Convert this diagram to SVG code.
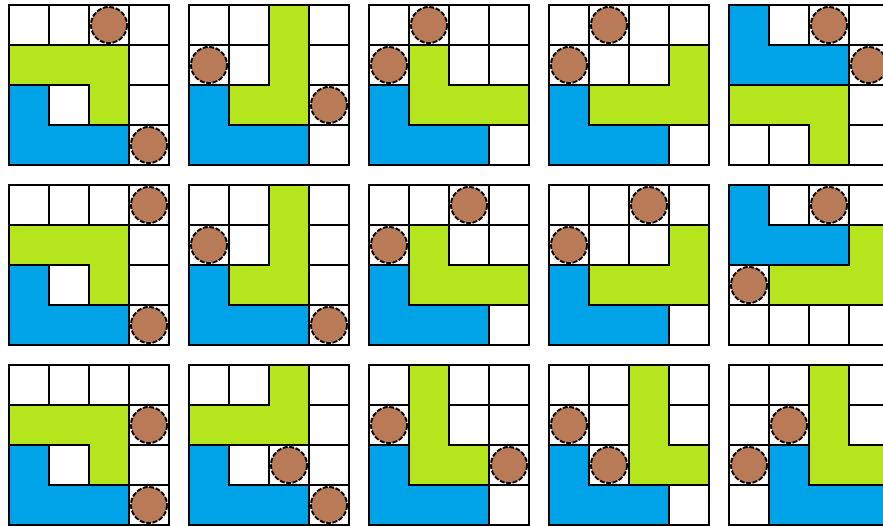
<svg xmlns="http://www.w3.org/2000/svg" xmlns:xlink="http://www.w3.org/1999/xlink" width="883" height="526" viewBox="0 0 883 526">
<style>
.g{fill:#b5e61d;stroke:#000;stroke-width:2}
.b{fill:#00a2e8;stroke:#000;stroke-width:2}
.c{fill:#b97a57;stroke:#000;stroke-width:2;stroke-dasharray:5 1.5}
.gl{fill:none;stroke:#000;stroke-width:2}
</style>
<defs>
<g id="grid">
<rect x="0" y="0" width="160" height="160" fill="#fff"/>
<path class="gl" d="M40 0V160M80 0V160M120 0V160M0 40H160M0 80H160M0 120H160"/>
<rect class="gl" x="0" y="0" width="160" height="160"/>
</g>
<polygon id="blueA" class="b" points="0,80 40,80 40,120 120,120 120,160 0,160"/>
</defs>
<rect width="883" height="526" fill="#fff"/>
<g id="board-r1c1" transform="translate(9,5)">
<use xlink:href="#grid"/><use xlink:href="#blueA"/>
<polygon class="g" points="0,40 120,40 120,120 80,120 80,80 0,80"/>
<circle class="c" cx="100" cy="20" r="18"/><circle class="c" cx="140" cy="140" r="18"/>
</g>
<g id="board-r1c2" transform="translate(189,5)">
<use xlink:href="#grid"/><use xlink:href="#blueA"/>
<polygon class="g" points="80,0 120,0 120,120 40,120 40,80 80,80"/>
<circle class="c" cx="20" cy="60" r="18"/><circle class="c" cx="140" cy="100" r="18"/>
</g>
<g id="board-r1c3" transform="translate(369,5)">
<use xlink:href="#grid"/><use xlink:href="#blueA"/>
<polygon class="g" points="40,40 80,40 80,80 160,80 160,120 40,120"/>
<circle class="c" cx="60" cy="20" r="18"/><circle class="c" cx="20" cy="60" r="18"/>
</g>
<g id="board-r1c4" transform="translate(549,5)">
<use xlink:href="#grid"/><use xlink:href="#blueA"/>
<polygon class="g" points="120,40 160,40 160,120 40,120 40,80 120,80"/>
<circle class="c" cx="60" cy="20" r="18"/><circle class="c" cx="20" cy="60" r="18"/>
</g>
<g id="board-r1c5" transform="translate(729,5)">
<use xlink:href="#grid"/>
<polygon class="b" points="0,0 40,0 40,40 120,40 120,80 0,80"/>
<polygon class="g" points="0,80 120,80 120,160 80,160 80,120 0,120"/>
<circle class="c" cx="100" cy="20" r="18"/><circle class="c" cx="140" cy="60" r="18"/>
</g>
<g id="board-r2c1" transform="translate(9,185)">
<use xlink:href="#grid"/><use xlink:href="#blueA"/>
<polygon class="g" points="0,40 120,40 120,120 80,120 80,80 0,80"/>
<circle class="c" cx="140" cy="20" r="18"/><circle class="c" cx="140" cy="140" r="18"/>
</g>
<g id="board-r2c2" transform="translate(189,185)">
<use xlink:href="#grid"/><use xlink:href="#blueA"/>
<polygon class="g" points="80,0 120,0 120,120 40,120 40,80 80,80"/>
<circle class="c" cx="20" cy="60" r="18"/><circle class="c" cx="140" cy="140" r="18"/>
</g>
<g id="board-r2c3" transform="translate(369,185)">
<use xlink:href="#grid"/><use xlink:href="#blueA"/>
<polygon class="g" points="40,40 80,40 80,80 160,80 160,120 40,120"/>
<circle class="c" cx="100" cy="20" r="18"/><circle class="c" cx="20" cy="60" r="18"/>
</g>
<g id="board-r2c4" transform="translate(549,185)">
<use xlink:href="#grid"/><use xlink:href="#blueA"/>
<polygon class="g" points="120,40 160,40 160,120 40,120 40,80 120,80"/>
<circle class="c" cx="100" cy="20" r="18"/><circle class="c" cx="20" cy="60" r="18"/>
</g>
<g id="board-r2c5" transform="translate(729,185)">
<use xlink:href="#grid"/>
<polygon class="b" points="0,0 40,0 40,40 120,40 120,80 0,80"/>
<polygon class="g" points="120,40 160,40 160,120 40,120 40,80 120,80"/>
<circle class="c" cx="100" cy="20" r="18"/><circle class="c" cx="20" cy="100" r="18"/>
</g>
<g id="board-r3c1" transform="translate(9,365)">
<use xlink:href="#grid"/><use xlink:href="#blueA"/>
<polygon class="g" points="0,40 120,40 120,120 80,120 80,80 0,80"/>
<circle class="c" cx="140" cy="60" r="18"/><circle class="c" cx="140" cy="140" r="18"/>
</g>
<g id="board-r3c2" transform="translate(189,365)">
<use xlink:href="#grid"/><use xlink:href="#blueA"/>
<polygon class="g" points="80,0 120,0 120,80 0,80 0,40 80,40"/>
<circle class="c" cx="100" cy="100" r="18"/><circle class="c" cx="140" cy="140" r="18"/>
</g>
<g id="board-r3c3" transform="translate(369,365)">
<use xlink:href="#grid"/><use xlink:href="#blueA"/>
<polygon class="g" points="40,0 80,0 80,80 120,80 120,120 40,120"/>
<circle class="c" cx="20" cy="60" r="18"/><circle class="c" cx="140" cy="100" r="18"/>
</g>
<g id="board-r3c4" transform="translate(549,365)">
<use xlink:href="#grid"/><use xlink:href="#blueA"/>
<polygon class="g" points="80,0 120,0 120,80 160,80 160,120 80,120"/>
<circle class="c" cx="20" cy="60" r="18"/><circle class="c" cx="60" cy="100" r="18"/>
</g>
<g id="board-r3c5" transform="translate(729,365)">
<use xlink:href="#grid"/>
<polygon class="b" points="40,80 80,80 80,120 160,120 160,160 40,160"/>
<polygon class="g" points="80,0 120,0 120,80 160,80 160,120 80,120"/>
<circle class="c" cx="60" cy="60" r="18"/><circle class="c" cx="20" cy="100" r="18"/>
</g>
<g id="connectors"/>
</svg>
